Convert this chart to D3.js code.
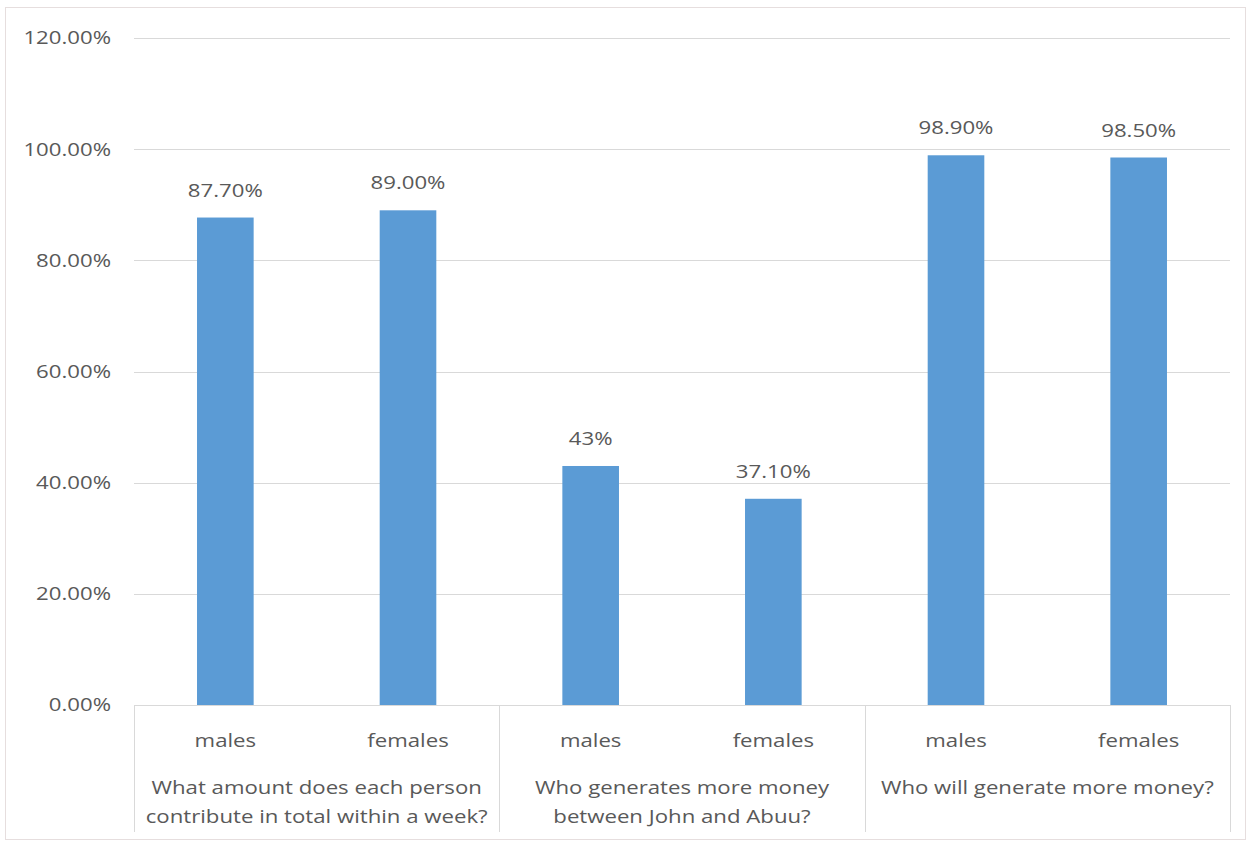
<!DOCTYPE html>
<html>
<head>
<meta charset="utf-8">
<script src="https://cdn.jsdelivr.net/npm/d3@7"></script>
<style>
  body { margin: 0; background: #fff; }
  text { font-family: "Open Sans", Lato, sans-serif; fill: #595959; }
</style>
</head>
<body>
<div id="chart"></div>
<script>
// data
const groups = [
  ["What amount does each person", "contribute in total within a week?"],
  ["Who generates more money", "between John and Abuu?"],
  ["Who will generate more money?"]
];
const subCats = ["males", "females"];
const values = [87.7, 89.0, 43, 37.1, 98.9, 98.5];
const valueLabels = ["87.70%", "89.00%", "43%", "37.10%", "98.90%", "98.50%"];
const yTicks = [0, 20, 40, 60, 80, 100, 120];

const width = 1258, height = 845;
const plotLeft = 134, plotRight = 1230, plotTop = 38, plotBottom = 705;
// the original picture is stretched sideways, so the text is too
const stretch = 1.2;
const place = (px, py) => `translate(${px},${py}) scale(${stretch},1)`;

const svg = d3.select('#chart').append('svg')
  .attr('width', width)
  .attr('height', height);

// outer chart border
svg.append('rect')
  .attr('x', 5.5).attr('y', 7.5)
  .attr('width', 1240).attr('height', 832)
  .attr('fill', 'none')
  .attr('stroke', '#e6dede');

const y = d3.scaleLinear().domain([0, 120]).range([plotBottom, plotTop]);

// one band per bar
const keys = [];
groups.forEach((g, gi) => subCats.forEach(s => keys.push(gi + '-' + s)));
const x = d3.scaleBand().domain(keys).range([plotLeft, plotRight]).paddingInner(0.69).paddingOuter(0.345);
const xGroup = d3.scaleBand().domain(groups.map((g, i) => i)).range([plotLeft, plotRight]);

// gridlines
svg.append('g').selectAll('line')
  .data(yTicks.filter(t => t > 0))
  .join('line')
  .attr('x1', plotLeft).attr('x2', plotRight)
  .attr('y1', d => Math.round(y(d)) + 0.5).attr('y2', d => Math.round(y(d)) + 0.5)
  .attr('stroke', '#d9d9d9');

// y labels
svg.append('g').selectAll('text')
  .data(yTicks)
  .join('text')
  .attr('transform', d => place(111, y(d)))
  .attr('dy', '0.35em')
  .attr('text-anchor', 'end')
  .style('font-size', '18.5px')
  .text(d => d.toFixed(2) + '%');

// bars
svg.append('g').selectAll('rect')
  .data(values)
  .join('rect')
  .attr('x', (d, i) => x(keys[i]))
  .attr('width', x.bandwidth())
  .attr('y', d => y(d))
  .attr('height', d => plotBottom - y(d))
  .attr('fill', '#5b9bd5');

// data labels
svg.append('g').selectAll('text')
  .data(values)
  .join('text')
  .attr('transform', (d, i) => place(x(keys[i]) + x.bandwidth() / 2, y(d) - 21))
  .attr('text-anchor', 'middle')
  .style('font-size', '18.5px')
  .text((d, i) => valueLabels[i]);

// category axis
svg.append('line')
  .attr('x1', plotLeft).attr('x2', plotRight)
  .attr('y1', plotBottom + 0.5).attr('y2', plotBottom + 0.5)
  .attr('stroke', '#d9d9d9');

const seps = xGroup.domain().map(d => xGroup(d)).concat([plotRight]);
svg.append('g').selectAll('line')
  .data(seps)
  .join('line')
  .attr('x1', d => Math.round(d) + 0.5).attr('x2', d => Math.round(d) + 0.5)
  .attr('y1', plotBottom).attr('y2', 832)
  .attr('stroke', '#d9d9d9');

svg.append('g').selectAll('text')
  .data(keys)
  .join('text')
  .attr('transform', d => place(x(d) + x.bandwidth() / 2, 747))
  .attr('text-anchor', 'middle')
  .style('font-size', '18.5px')
  .text(d => d.split('-')[1]);

groups.forEach((g, gi) => {
  const cx = xGroup(gi) + xGroup.bandwidth() / 2;
  g.forEach((line, li) => {
    svg.append('text')
      .attr('transform', place(cx, 794 + li * 29))
      .attr('text-anchor', 'middle')
      .style('font-size', '18.5px')
      .text(line);
  });
});
</script>
</body>
</html>
